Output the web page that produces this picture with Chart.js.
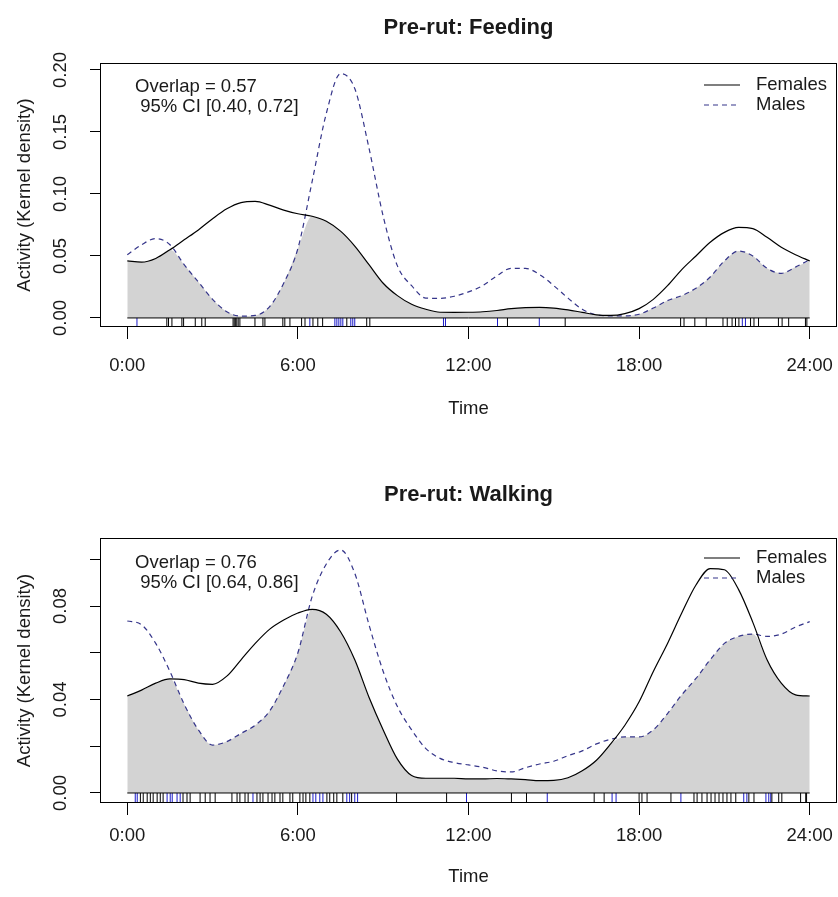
<!DOCTYPE html>
<html>
<head>
<meta charset="utf-8">
<script src="https://cdn.jsdelivr.net/npm/chart.js@4.4.0/dist/chart.umd.min.js"></script>
<style>
  html, body { margin: 0; padding: 0; background: #fff; }
  canvas { display: block; }
</style>
</head>
<body>
<canvas id="feeding" width="838" height="448"></canvas>
<canvas id="walking" width="838" height="449"></canvas>
<script>
const hours = [0, 0.5, 1, 1.5, 2, 2.5, 3, 3.5, 4, 4.5, 5, 5.5, 6, 6.5, 7, 7.5, 8, 8.5, 9, 9.5,
  10, 10.5, 11, 11.5, 12, 12.5, 13, 13.5, 14, 14.5, 15, 15.5, 16, 16.5, 17, 17.5, 18, 18.5, 19, 19.5,
  20, 20.5, 21, 21.5, 22, 22.5, 23, 23.5, 24];

const femalesFeeding = [0.046, 0.045, 0.048, 0.055, 0.063, 0.071, 0.080, 0.088, 0.093, 0.094,
  0.091, 0.087, 0.084, 0.082, 0.078, 0.070, 0.058, 0.043, 0.028, 0.018,
  0.011, 0.007, 0.0046, 0.0045, 0.0046, 0.005, 0.006, 0.0075, 0.0083, 0.0086,
  0.008, 0.0065, 0.0045, 0.0025, 0.002, 0.0035, 0.0075, 0.015, 0.026, 0.039,
  0.050, 0.061, 0.069, 0.073, 0.072, 0.065, 0.057, 0.051, 0.046];
const malesFeeding = [0.051, 0.059, 0.064, 0.059, 0.043, 0.029, 0.015, 0.005, 0.0015, 0.002,
  0.009, 0.028, 0.056, 0.110, 0.165, 0.197, 0.185, 0.137, 0.082, 0.042,
  0.026, 0.016, 0.0158, 0.0175, 0.021, 0.026, 0.034, 0.040, 0.040, 0.035,
  0.026, 0.016, 0.007, 0.0025, 0.0017, 0.0016, 0.003, 0.008, 0.014, 0.018,
  0.024, 0.033, 0.046, 0.054, 0.050, 0.040, 0.036, 0.041, 0.047];

const femalesWalking = [0.0415, 0.044, 0.047, 0.0488, 0.0485, 0.047, 0.0465, 0.050, 0.057, 0.064,
  0.070, 0.074, 0.077, 0.0786, 0.0765, 0.069, 0.057, 0.041, 0.027, 0.0145,
  0.0075, 0.0063, 0.0063, 0.0063, 0.006, 0.006, 0.0062, 0.006, 0.0057, 0.0053,
  0.0054, 0.0065, 0.0095, 0.014, 0.021, 0.029, 0.039, 0.052, 0.064, 0.077,
  0.089, 0.096, 0.0955, 0.087, 0.073, 0.057, 0.047, 0.042, 0.0415];
const malesWalking = [0.0736, 0.072, 0.064, 0.052, 0.038, 0.027, 0.0205, 0.022, 0.0255, 0.029,
  0.035, 0.046, 0.060, 0.084, 0.098, 0.104, 0.094, 0.072, 0.052, 0.037,
  0.027, 0.019, 0.0148, 0.013, 0.012, 0.011, 0.0095, 0.009, 0.0108, 0.0124,
  0.0136, 0.016, 0.018, 0.021, 0.023, 0.024, 0.024, 0.027, 0.034, 0.042,
  0.049, 0.057, 0.064, 0.067, 0.068, 0.067, 0.068, 0.071, 0.0733];

// rug: observation times (hours)
const rugFemalesFeeding = [1.39, 1.45, 1.57, 1.92, 1.98, 2.39, 2.62, 2.74, 3.72, 3.76, 3.8, 3.85, 3.9, 3.96,
  4.49, 4.77, 4.84, 5.47, 5.54, 5.72, 6.13, 6.25, 6.53, 6.7, 6.87, 7.72, 8.42, 8.53,
  13.37, 15.4, 19.46, 19.58, 19.96, 20.36, 20.95, 21.1, 21.27, 21.39, 21.51, 21.92, 22.04, 22.2,
  22.9, 23.03, 23.26, 23.85, 23.9];
const rugMalesFeeding = [0.34, 6.42, 7.3, 7.37, 7.44, 7.51, 7.58, 7.86, 7.93, 8.0, 11.12, 11.19,
  13.02, 14.49, 21.63, 21.74];
const rugFemalesWalking = [0.46, 0.56, 0.7, 0.81, 0.91, 1.05, 1.16, 1.26, 1.96, 2.1, 2.21, 2.56, 2.74, 2.91, 3.09,
  3.68, 3.86, 3.96, 4.14, 4.25, 4.56, 4.67, 4.77, 4.95, 5.09, 5.19, 5.37, 5.47, 5.72, 5.82,
  6.07, 6.18, 6.28, 6.42, 7.02, 7.12, 7.26, 7.37, 7.58, 7.89, 9.47, 11.23, 13.51, 14.04,
  16.42, 16.77, 18.0, 18.1, 18.28, 19.12, 19.93, 20.04, 20.21, 20.39, 20.53, 20.67, 20.81,
  20.95, 21.09, 21.23, 21.4, 21.86, 22.04, 22.67, 22.91, 23.02, 23.68, 23.86, 23.89];
const rugMalesWalking = [0.28, 0.35, 1.4, 1.51, 1.58, 1.75, 1.86, 4.42, 6.53, 6.63, 6.77, 6.88,
  7.72, 7.82, 8.0, 8.1, 11.93, 14.77, 17.05, 17.19, 19.47, 21.68, 21.79, 22.46, 22.56, 22.63];

const xTicks = [0, 6, 12, 18, 24];
const yTicksFeeding = [0, 0.05, 0.10, 0.15, 0.20];
const yTicksWalking = [0, 0.02, 0.04, 0.06, 0.08, 0.10];
const yLabelsWalking = [0, 0.04, 0.08];

const FONT = '"Liberation Sans", Arial, Helvetica, sans-serif';
const TEXT = '#1a1a1a';
const MALE_COL = '#35358a';

// titles, labels, legend and the frame box, R base-graphics style
const decor = {
  id: 'decor',
  afterDraw(chart, args, o) {
    const ctx = chart.ctx, a = chart.chartArea, ys = chart.scales.y;
    const cx = (a.left + a.right) / 2;
    ctx.save();
    ctx.fillStyle = TEXT;
    ctx.textBaseline = 'middle';
    ctx.textAlign = 'center';
    ctx.font = 'bold 22px ' + FONT;
    ctx.fillText(o.title, cx, o.titleY);
    ctx.font = '18.5px ' + FONT;
    ctx.fillText('Time', cx, o.timeY);

    ctx.save();
    ctx.translate(25, (a.top + a.bottom) / 2);
    ctx.rotate(-Math.PI / 2);
    ctx.fillText('Activity (Kernel density)', 0, 0);
    ctx.restore();

    o.yLabels.forEach(v => {
      ctx.save();
      ctx.translate(61, ys.getPixelForValue(v));
      ctx.rotate(-Math.PI / 2);
      ctx.fillText(v.toFixed(2), 0, 0);
      ctx.restore();
    });

    ctx.textAlign = 'left';
    ctx.fillText(o.overlap[0], 135, o.textY);
    ctx.fillText(o.overlap[1], 135, o.textY + 20);

    // legend
    ctx.fillText('Females', 756, o.legendY);
    ctx.fillText('Males', 756, o.legendY + 20);
    ctx.lineWidth = 1.2;
    ctx.strokeStyle = '#000';
    ctx.beginPath(); ctx.moveTo(704, o.legendY); ctx.lineTo(740, o.legendY); ctx.stroke();
    ctx.strokeStyle = MALE_COL;
    ctx.setLineDash([5, 4]);
    ctx.beginPath(); ctx.moveTo(704, o.legendY + 20); ctx.lineTo(740, o.legendY + 20); ctx.stroke();
    ctx.setLineDash([]);

    ctx.strokeStyle = '#000';
    ctx.lineWidth = 1;
    ctx.strokeRect(a.left + 0.5, a.top + 0.5, a.right - a.left - 1, a.bottom - a.top - 1);
    ctx.restore();
  }
};

function pts(ys) {
  return hours.map((h, i) => ({ x: h, y: ys[i] }));
}

function noPad(s) {
  s.paddingLeft = 0; s.paddingRight = 0; s.paddingTop = 0; s.paddingBottom = 0;
}

function makePanel(id, p) {
  const rugY = p.yMin / 2;
  const rug = (times, col) => ({
    type: 'scatter',
    data: times.map(t => ({ x: t, y: rugY })),
    showLine: false,
    pointStyle: 'line',
    rotation: 90,
    pointRadius: p.rugLen / 2,
    pointHoverRadius: p.rugLen / 2,
    pointBorderColor: col,
    pointBorderWidth: 1,
    order: 1
  });
  const overlapArea = hours.map((h, i) => ({ x: h, y: Math.min(p.females[i], p.males[i]) }));

  new Chart(document.getElementById(id), {
    type: 'line',
    data: {
      datasets: [
        { data: pts(p.females), borderColor: '#000', borderWidth: 1.2, pointRadius: 0,
          cubicInterpolationMode: 'monotone', fill: false, order: 0 },
        { data: pts(p.males), borderColor: MALE_COL, borderWidth: 1.2, borderDash: [5, 4], pointRadius: 0,
          cubicInterpolationMode: 'monotone', fill: false, order: 0 },
        { data: [{ x: xTicks[0], y: 0 }, { x: xTicks[xTicks.length - 1], y: 0 }],
          borderColor: '#000', borderWidth: 1, pointRadius: 0, fill: false, order: 1 },
        rug(p.rugF, '#000'),
        rug(p.rugM, '#1c1cc8'),
        { data: overlapArea, borderWidth: 0, pointRadius: 0, backgroundColor: '#d3d3d3',
          cubicInterpolationMode: 'monotone', fill: 'origin', order: 2 }
      ]
    },
    options: {
      responsive: false,
      animation: false,
      devicePixelRatio: 1,
      layout: { autoPadding: false, padding: { top: p.top, right: 1, left: 0, bottom: 0 } },
      plugins: {
        legend: { display: false },
        tooltip: { enabled: false },
        decor: p.decor
      },
      scales: {
        x: {
          type: 'linear',
          min: -0.96,
          max: 24.96,
          afterBuildTicks: s => { s.ticks = xTicks.map(v => ({ value: v })); },
          afterFit: s => { s.height = p.height - p.bottom; noPad(s); },
          grid: { drawOnChartArea: false, color: '#000', tickLength: 12 },
          border: { display: false },
          ticks: {
            padding: p.tickPad,
            color: TEXT,
            font: { family: FONT, size: 18.5 },
            maxRotation: 0,
            callback: v => v + ':00'
          }
        },
        y: {
          min: p.yMin,
          max: p.yMax,
          afterBuildTicks: s => { s.ticks = p.yTicks.map(v => ({ value: v })); },
          afterFit: s => { s.width = 100; noPad(s); },
          grid: { drawOnChartArea: false, color: '#000', tickLength: 10 },
          border: { display: false },
          ticks: { display: false }
        }
      }
    },
    plugins: [decor]
  });
}

makePanel('feeding', {
  females: femalesFeeding, males: malesFeeding,
  rugF: rugFemalesFeeding, rugM: rugMalesFeeding,
  yMin: -0.0073, yMax: 0.2056, yTicks: yTicksFeeding,
  top: 63, bottom: 327, height: 448, tickPad: 16, rugLen: 9,
  decor: {
    title: 'Pre-rut: Feeding', titleY: 28, timeY: 409,
    yLabels: yTicksFeeding,
    overlap: ['Overlap = 0.57', ' 95% CI [0.40, 0.72]'], textY: 87,
    legendY: 85
  }
});

makePanel('walking', {
  females: femalesWalking, males: malesWalking,
  rugF: rugFemalesWalking, rugM: rugMalesWalking,
  yMin: -0.00428, yMax: 0.1091, yTicks: yTicksWalking,
  top: 90, bottom: 355, height: 449, tickPad: 10, rugLen: 10,
  decor: {
    title: 'Pre-rut: Walking', titleY: 47, timeY: 429,
    yLabels: yLabelsWalking,
    overlap: ['Overlap = 0.76', ' 95% CI [0.64, 0.86]'], textY: 115,
    legendY: 110
  }
});
</script>
</body>
</html>
